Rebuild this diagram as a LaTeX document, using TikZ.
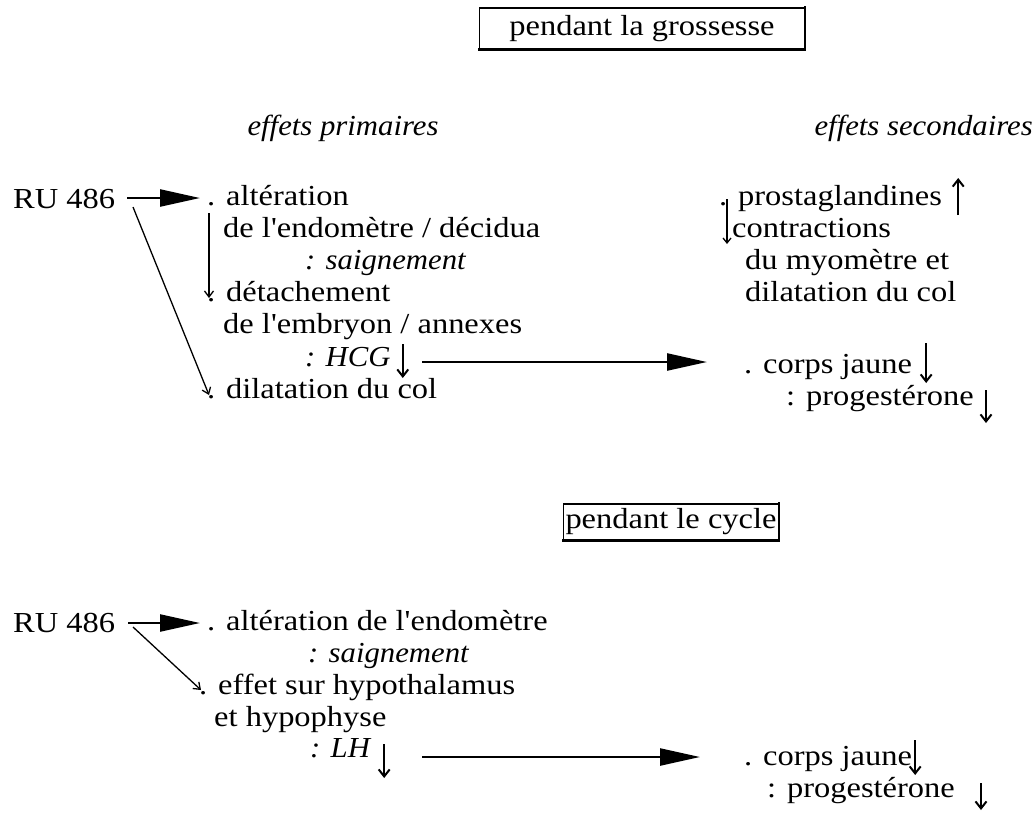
\documentclass[tikz,border=0pt]{standalone}
\usepackage{fontspec}
\setmainfont{Liberation Serif}[Ligatures=TeXOff,FakeStretch=1.12]
\newfontfamily\itfam{Liberation Serif}[Ligatures=TeXOff,FakeStretch=1.06]
\usetikzlibrary{arrows.meta,calc}
\begin{document}
\begin{tikzpicture}[x=1pt,y=-1pt,
  txt/.style={anchor=base west,inner sep=0pt,font=\fontsize{29}{32}\selectfont},
  ittxt/.style={txt,font=\fontsize{29}{32}\selectfont\itfam\itshape},
  boxst/.style={draw,line width=1.2pt,inner sep=0pt,font=\fontsize{29}{32}\selectfont},
  shadow/.style={line width=2.6pt,line cap=rect},
  bigarrow/.style={line width=2.4pt,-{Triangle[length=40pt,width=17pt]}},
  thinarrow/.style={line width=1.3pt,-{Straight Barb[length=6pt,width=9pt]}},
  symarrow/.style={line width=2pt,-{Straight Barb[length=7pt,width=11pt]}}]
\useasboundingbox (0,0) rectangle (1035,812);

% ---------- section 1 ----------
\node[boxst,minimum width=325pt,minimum height=41pt] (b1) at (642,28.5) {pendant la grossesse};
\draw[shadow] (b1.north east) -- (b1.south east) -- (b1.south west);

\node[ittxt,anchor=base] (ep) at (343,135) {effets primaires};
\node[ittxt,anchor=base east] (es) at (1033,135) {effets secondaires};

\node[txt] (ru1) at (13,208) {RU 486};
\node[txt] (a1) at (207,205) {. altération};
\node[txt] (a2) at (223,237) {de l'endomètre / décidua};
\node[ittxt] (a3) at (305,269) {: saignement};
\node[txt] (a4) at (207,301) {. détachement};
\node[txt] (a5) at (223,333) {de l'embryon / annexes};
\node[ittxt] (a6) at (305,366) {: HCG};
\node[txt] (a7) at (207,398) {. dilatation du col};

\coordinate (ru1a) at (127,198);
\coordinate (ru1b) at (133,207);
\coordinate (a1t) at (200,198);
\coordinate (a1d) at (209,213);
\coordinate (a4d) at (209,298);
\coordinate (a7d) at (209,395);
\draw[bigarrow] (ru1a) -- (a1t);
\draw[thinarrow] (ru1b) -- (a7d);
\draw[thinarrow] (a1d) -- (a4d);

\draw[symarrow] ($(a6.base east)+(12,-22)$) -- ++(0,34);

\coordinate (m1a) at (422,362);
\coordinate (m1b) at (707,362);
\draw[bigarrow] (m1a) -- (m1b);

\node[txt] (s1) at (719,205) {. prostaglandines};
\node[txt] (s2) at (732,237) {contractions};
\node[txt] (s3) at (745,269) {du myomètre et};
\node[txt] (s4) at (745,301) {dilatation du col};
\draw[symarrow] ($(s1.base east)+(16,10)$) -- ++(0,-37);
\draw[line width=1.3pt,-{Straight Barb[length=5pt,width=8pt]}] ($(s1.base west)+(8,-6)$) -- ($(s2.base west)+(-5,7)$);

\node[txt] (c1) at (744,373) {. corps jaune};
\node[txt] (c2) at (786,405) {: progestérone};
\draw[symarrow] ($(c1.base east)+(14,-30)$) -- ++(0,40);
\draw[symarrow] ($(c2.base east)+(12,-15)$) -- ++(0,33);

% ---------- section 2 ----------
\node[boxst,minimum width=215pt,minimum height=36pt] (b2) at (671,522) {pendant le cycle};
\draw[shadow] (b2.north east) -- (b2.south east) -- (b2.south west);

\node[txt] (ru2) at (13,632) {RU 486};
\node[txt] (d1) at (207,630) {. altération de l'endomètre};
\node[ittxt] (d2) at (308,662) {: saignement};
\node[txt] (d3) at (199,694) {. effet sur hypothalamus};
\node[txt] (d4) at (214,726) {et hypophyse};
\node[ittxt] (d5) at (310,757) {: LH};

\coordinate (ru2a) at (128,623);
\coordinate (ru2b) at (133,627);
\coordinate (d1t) at (200,623);
\coordinate (d3d) at (201,690);
\draw[bigarrow] (ru2a) -- (d1t);
\draw[thinarrow] (ru2b) -- (d3d);
\draw[symarrow] ($(d5.base east)+(14,-13)$) -- ++(0,34);

\coordinate (m2a) at (422,757);
\coordinate (m2b) at (700,757);
\draw[bigarrow] (m2a) -- (m2b);

\node[txt] (e1) at (744,765) {. corps jaune};
\node[txt] (e2) at (767,797) {: progestérone};
\draw[symarrow] ($(e1.base east)+(3,-25)$) -- ++(0,35);
\draw[symarrow] ($(e2.base east)+(26,-14)$) -- ++(0,27);
\end{tikzpicture}
\end{document}
